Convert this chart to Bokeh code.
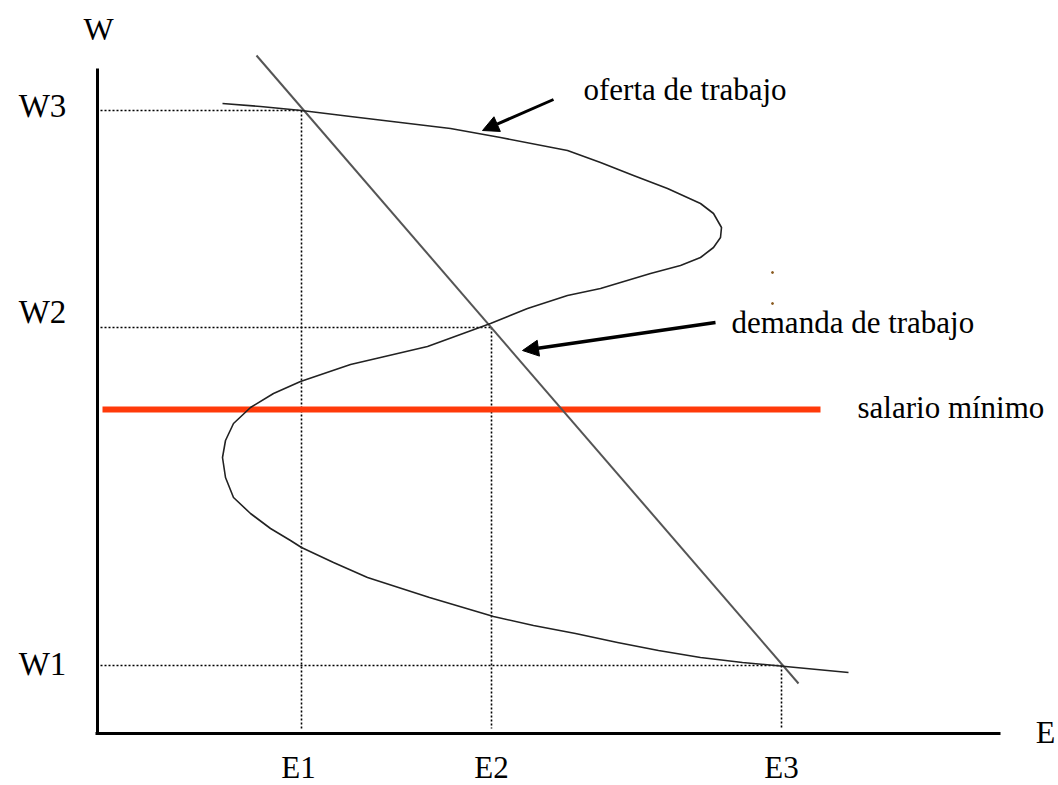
from bokeh.plotting import figure
from bokeh.models import Range1d, Arrow, NormalHead, ColumnDataSource
from bokeh.core.properties import value
from bokeh.embed import file_html
from bokeh.resources import INLINE

# ---- data (diagram units: E grows to the right, W scale drawn downward on screen) ----
w_labels = ["W1", "W2", "W3"]
w_values = [665, 327, 110]
e_labels = ["E1", "E2", "E3"]
e_values = [301, 491, 781]

supply_E = [222, 260, 301, 350, 400, 450, 500, 567, 600, 633, 667, 700, 713, 721, 720,
            713, 700, 680, 650, 620, 600, 567, 527, 490, 427, 380, 350, 300, 273, 250,
            233, 225, 222, 225, 233, 250, 270, 290, 301, 333, 367, 429, 493, 533, 575,
            617, 658, 700, 742, 785, 848]
supply_W = [103, 106, 110, 116, 122, 128, 137, 150, 162, 175, 188, 203, 213, 227, 237,
            247, 257, 265, 273, 282, 288, 295, 308, 323, 346, 357, 364, 381, 393, 407,
            423, 440, 457, 477, 497, 513, 528, 540, 547, 562, 577, 597, 616, 625, 633,
            642, 650, 657, 662, 666, 672]

demand_E = [256, 798]
demand_W = [55, 683]

min_wage_W = 409
min_wage_E = [102, 820]

FONT = value("Liberation Serif")

p = figure(width=1058, height=785, output_backend="svg", toolbar_location=None,
           x_range=Range1d(0, 1058), y_range=Range1d(785, 0),
           min_border=0, min_border_left=0, min_border_right=0,
           min_border_top=0, min_border_bottom=0)
p.axis.visible = False
p.grid.visible = False
p.outline_line_color = None
p.background_fill_color = "white"

# axes
p.line([97, 97], [68, 734], line_color="black", line_width=3)
p.line([95, 1000], [733, 733], line_color="black", line_width=3)

# dotted guides
guide_end = {665: 781, 327: 491, 110: 301}
for w in w_values:
    p.line([100, guide_end[w]], [w, w], line_color="black", line_width=1.6, line_dash="2 2")
e_top = {301: 110, 491: 327, 781: 665}
for e in e_values:
    p.line([e, e], [e_top[e], 728], line_color="black", line_width=1.6, line_dash="2 2")

# minimum wage
p.line(min_wage_E, [min_wage_W, min_wage_W], line_color="#ff3a0a", line_width=6)

# demand
p.line(demand_E, demand_W, line_color="#555555", line_width=2)

# supply
p.line(supply_E, supply_W, line_color="#222222", line_width=1.6, line_join="round")

# arrows
p.add_layout(Arrow(end=NormalHead(size=16, fill_color="black", line_color="black"),
                   x_start=553, y_start=99, x_end=482, y_end=130,
                   line_width=3, line_color="black"))
p.add_layout(Arrow(end=NormalHead(size=16, fill_color="black", line_color="black"),
                   x_start=715, y_start=322, x_end=522, y_end=350,
                   line_width=3.5, line_color="black"))

# tiny marks
p.scatter([772, 772], [272, 303], size=2, color="#8a5a20")

# labels
src_w = ColumnDataSource(dict(x=[42, 42, 42], y=[663, 311, 105], t=w_labels))
p.text(x="x", y="y", text="t", source=src_w, text_font=FONT, text_font_size="33px",
       text_align="center", text_baseline="middle", text_color="black")
src_e = ColumnDataSource(dict(x=[298, 491, 781], y=[767, 767, 767], t=e_labels))
p.text(x="x", y="y", text="t", source=src_e, text_font=FONT, text_font_size="31px",
       text_align="center", text_baseline="middle", text_color="black")
p.text(x=[98], y=[28], text=["W"], text_font=FONT, text_font_size="32px",
       text_align="center", text_baseline="middle", text_color="black")
p.text(x=[1045], y=[731], text=["E"], text_font=FONT, text_font_size="32px",
       text_align="center", text_baseline="middle", text_color="black")

p.text(x=[583], y=[89], text=["oferta de trabajo"], text_font=FONT, text_font_size="31px",
       text_align="left", text_baseline="middle", text_color="black")
p.text(x=[731], y=[322], text=["demanda de trabajo"], text_font=FONT, text_font_size="31px",
       text_align="left", text_baseline="middle", text_color="black")
p.text(x=[857], y=[407], text=["salario mínimo"], text_font=FONT, text_font_size="31px",
       text_align="left", text_baseline="middle", text_color="black")

open("out.html", "w").write(file_html(p, INLINE))
